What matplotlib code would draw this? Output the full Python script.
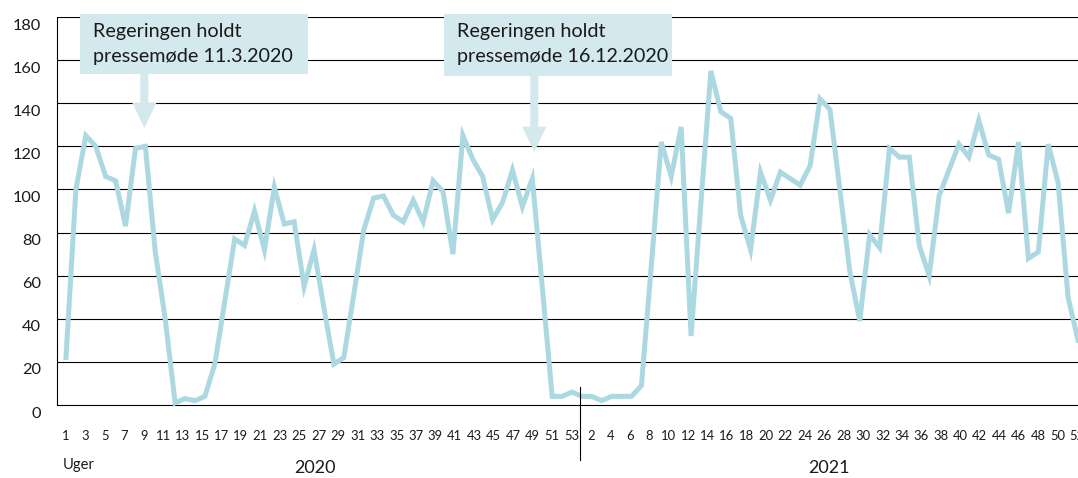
import matplotlib
matplotlib.use("Agg")
import matplotlib.pyplot as plt
import matplotlib.transforms as mtransforms
from matplotlib.patches import Rectangle
import numpy as np

plt.rcParams['font.family'] = ['Lato', 'DejaVu Sans']

# weekly values, 2020 (weeks 1-53) then 2021
values_2020 = [22, 100, 125, 120, 106, 104, 83, 119, 120, 71, 40, 1, 3, 2, 4, 19, 48, 77,
               74, 90, 72, 101, 84, 85, 55, 72, 45, 19, 22, 51, 81, 96, 97, 88, 85, 95,
               85, 104, 99, 70, 125, 114, 106, 86, 94, 109, 92, 105, 55, 4, 4, 6, 4]
values_2021 = [4, 2, 4, 4, 4, 9, 65, 122, 106, 129, 32, 94, 155, 136, 133, 88, 72, 108,
               95, 108, 105, 102, 111, 142, 137, 100, 62, 39, 79, 73, 119, 115, 115, 74,
               60, 97, 109, 121, 115, 132, 116, 114, 89, 122, 68, 71, 121, 103, 50, 30]

weeks_2020 = list(range(1, 54))
weeks_2021 = list(range(1, 53))
years = ["2020", "2021"]
y_ticks = [0, 20, 40, 60, 80, 100, 120, 140, 160, 180]

notes = ["Regeringen holdt\npressemøde 11.3.2020", "Regeringen holdt\npressemøde 16.12.2020"]
note_idx = [7.9, 47.2]      # position on line axis
note_tip = [128.5, 117.5]   # arrow tip value

LINE = "#acd9e1"
BOX = "#d3e9ee"
TXT = "#1a1a1a"

W, H = 1078, 478
fig = plt.figure(figsize=(W / 100, H / 100), dpi=100)
ax = fig.add_axes([57 / W, 1 - 405 / H, 1 - 57 / W, 388 / H])

values = values_2020 + values_2021
x = np.arange(len(values))
ax.plot(x, values, color=LINE, lw=3.6, solid_joinstyle="miter", zorder=3, clip_on=False)

ax.set_xlim(-0.906, len(values) - 1)
ax.set_ylim(0, 180)
for yv in y_ticks[1:]:
    ax.axhline(yv, color="black", lw=0.8, zorder=1)
for s in ["top", "right"]:
    ax.spines[s].set_visible(False)
ax.spines["left"].set_linewidth(0.8)
ax.spines["bottom"].set_linewidth(0.8)
ax.set_xticks([])
ax.set_yticks(y_ticks)
ax.tick_params(axis="y", length=0, pad=11.5, labelsize=11.8, labelcolor=TXT)
off = mtransforms.ScaledTranslation(0, -7 / 100, fig.dpi_scale_trans)
for lab in ax.get_yticklabels():
    lab.set_transform(lab.get_transform() + off)

# week label axis (labels are spaced over the full 105 weeks)
ax2 = ax.twiny()
ax2.xaxis.set_ticks_position("bottom")
n_weeks = len(weeks_2020) + len(weeks_2021)
ax2.set_xlim(-0.926, n_weeks - 1 + 0.1)
pos, labs = [], []
for i, w in enumerate(weeks_2020):
    if w % 2 == 1:
        pos.append(i)
        labs.append(str(w))
for i, w in enumerate(weeks_2021):
    if w % 2 == 0:
        pos.append(len(weeks_2020) + i)
        labs.append(str(w))
ax2.set_xticks(pos)
ax2.set_xticklabels(labs)
ax2.tick_params(axis="x", length=0, pad=18, labelsize=9.4, labelcolor=TXT)
for s in ax2.spines.values():
    s.set_visible(False)

# year divider and year labels
ax2.axvline(len(weeks_2020) - 0.1, ymin=-0.142, ymax=0.046, color="black", lw=0.8, clip_on=False)
tr = mtransforms.blended_transform_factory(ax2.transData, fig.transFigure)
mid_2020 = (len(weeks_2020) - 1) / 2 - 0.4
mid_2021 = len(weeks_2020) + (len(weeks_2021) - 1) / 2
ax2.text(mid_2020, 1 - 468 / H, years[0], transform=tr, ha="center", va="center",
         fontsize=13, color=TXT)
ax2.text(mid_2021, 1 - 468 / H, years[1], transform=tr, ha="center", va="center",
         fontsize=13, color=TXT)
fig.text(63 / W, 1 - 465 / H, "Uger", ha="left", va="center", fontsize=10.6, color=TXT)

# annotation boxes with arrows
boxes = [(80, 14, 228, 60), (444, 14, 228, 62)]
for (bx, by, bw, bh), note, xi, tip in zip(boxes, notes, note_idx, note_tip):
    ax.add_patch(Rectangle((bx / W, 1 - (by + bh) / H), bw / W, bh / H, transform=fig.transFigure,
                           facecolor=BOX, edgecolor="none", zorder=6, clip_on=False))
    ax.text((bx + 13) / W, 1 - 62 / H, note, transform=fig.transFigure, ha="left", va="baseline",
            fontsize=14.2, color=TXT, linespacing=1.6, zorder=7)
    ax.annotate("", xy=(xi, tip), xytext=(xi, 165),
                arrowprops=dict(arrowstyle="simple,head_length=18,head_width=17.3,tail_width=5.8",
                                mutation_scale=1, color=BOX, shrinkA=0, shrinkB=0, lw=0),
                zorder=5, annotation_clip=False)

fig.savefig("out.png", dpi=100)
